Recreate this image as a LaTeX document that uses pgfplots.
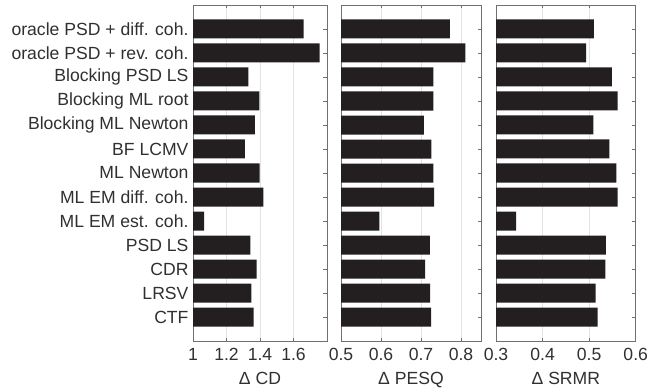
\documentclass[border=0pt]{standalone}
\usepackage{fontspec}
\setmainfont{Liberation Sans}
\usepackage{pgfplots}
\pgfplotsset{compat=1.18}
\definecolor{barc}{HTML}{231F20}
\definecolor{framec}{HTML}{707070}
\definecolor{textc}{HTML}{303030}
\definecolor{gridc}{HTML}{E3E3E3}
\pgfplotsset{
  panel/.style={
    scale only axis, height=336pt, anchor=south west,
    xbar, bar width=19pt,
    ymin=0, ymax=14, y dir=reverse,
    ytick={1,...,13},
    tick align=inside, major tick length=3.5pt,
    ytick pos=both, xtick pos=both,
    axis line style={framec, line width=0.6pt},
    major tick style={framec, line width=0.5pt},
    xmajorgrids, grid style={gridc, line width=0.6pt},
    tick label style={textc, font=\fontsize{17.6}{19}\selectfont},
    label style={textc, font=\fontsize{17.6}{19}\selectfont},
    /pgf/number format/assume math mode=true,
    /pgf/number format/fixed,
    xticklabel style={yshift=-4pt},
    yticklabel style={xshift=-1pt},
    xlabel style={yshift=-4pt},
  },
  bars/.style={fill=barc, draw=none},
}
\begin{document}
\begin{tikzpicture}
\path[use as bounding box] (0pt,0pt) rectangle (647pt,390pt);
\begin{axis}[panel, at={(193pt,49pt)}, width=134pt,
  xmin=1, xmax=1.8, xtick={1,1.2,1.4,1.6},
  yticklabels={oracle PSD + diff. coh., oracle PSD + rev. coh., Blocking PSD LS, Blocking ML root, Blocking ML Newton, BF LCMV, ML Newton, ML EM diff. coh., ML EM est. coh., PSD LS, CDR, LRSV, CTF},
  xlabel={Δ CD}]
\addplot[bars] coordinates {(1.66,1) (1.756,2) (1.33,3) (1.396,4) (1.37,5) (1.31,6) (1.398,7) (1.42,8) (1.066,9) (1.342,10) (1.38,11) (1.348,12) (1.362,13)};
\end{axis}
\begin{axis}[panel, at={(341pt,49pt)}, width=140pt,
  xmin=0.5, xmax=0.85, xtick={0.5,0.6,0.7,0.8},
  yticklabels={}, xlabel={Δ PESQ}]
\addplot[bars] coordinates {(0.772,1) (0.811,2) (0.731,3) (0.731,4) (0.707,5) (0.726,6) (0.731,7) (0.733,8) (0.596,9) (0.722,10) (0.710,11) (0.723,12) (0.725,13)};
\end{axis}
\begin{axis}[panel, at={(496pt,49pt)}, width=139.7pt,
  xmin=0.3, xmax=0.6, xtick={0.3,0.4,0.5,0.6},
  yticklabels={}, xlabel={Δ SRMR}]
\addplot[bars] coordinates {(0.510,1) (0.4936,2) (0.549,3) (0.561,4) (0.509,5) (0.5436,6) (0.5586,7) (0.561,8) (0.343,9) (0.536,10) (0.535,11) (0.514,12) (0.518,13)};
\end{axis}
\end{tikzpicture}
\end{document}
